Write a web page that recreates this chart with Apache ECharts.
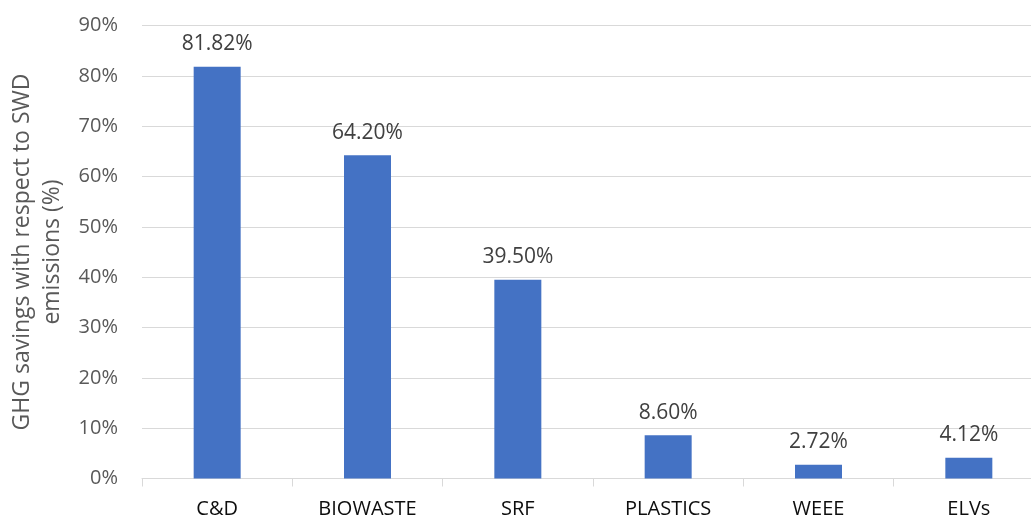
<!DOCTYPE html>
<html>
<head>
<meta charset="utf-8">
<script src="https://cdn.jsdelivr.net/npm/echarts@6/dist/echarts.min.js"></script>
<style>
  html, body { margin: 0; padding: 0; background: #fff; }
  #chart { width: 1031px; height: 518px; }
</style>
</head>
<body>
<div id="chart"></div>
<script>
// Waste streams and their GHG savings relative to SWD emissions (%)
const categories = ['C&D', 'BIOWASTE', 'SRF', 'PLASTICS', 'WEEE', 'ELVs'];
const savings = [81.82, 64.20, 39.50, 8.60, 2.72, 4.12];
const yTicks = [0, 10, 20, 30, 40, 50, 60, 70, 80, 90];

const font = '"Open Sans", "Noto Sans", sans-serif';

const chart = echarts.init(document.getElementById('chart'), null, { renderer: 'canvas' });
chart.setOption({
  animation: false,
  grid: {
    left: 142, right: -13, top: 25.5, bottom: 39.5,
    containLabel: false,
    outerBoundsMode: 'none'
  },
  xAxis: {
    type: 'category',
    data: categories,
    axisLine: { show: true, lineStyle: { color: '#d9d9d9', width: 1 } },
    axisTick: { show: true, length: 8, lineStyle: { color: '#d9d9d9' } },
    axisLabel: { color: '#0d0d0d', fontSize: 20, fontFamily: font, margin: 21 }
  },
  yAxis: {
    type: 'value',
    min: yTicks[0],
    max: yTicks[yTicks.length - 1],
    interval: 10,
    name: 'GHG savings with respect to SWD\nemissions (%)',
    nameLocation: 'middle',
    nameGap: 74,
    nameTextStyle: { color: '#595959', fontSize: 23, fontFamily: font, lineHeight: 30 },
    axisLine: { show: false },
    axisTick: { show: false },
    splitLine: { lineStyle: { color: '#d9d9d9', width: 1 } },
    axisLabel: {
      color: '#595959', fontSize: 20, fontFamily: font, margin: 24,
      formatter: v => v + '%'
    }
  },
  series: [{
    type: 'bar',
    data: savings,
    barWidth: 47,
    itemStyle: { color: '#4472c4' },
    label: {
      show: true,
      position: 'top',
      distance: 12,
      color: '#404040',
      fontSize: 21,
      fontFamily: font,
      formatter: p => p.value.toFixed(2) + '%'
    }
  }]
});
</script>
</body>
</html>
